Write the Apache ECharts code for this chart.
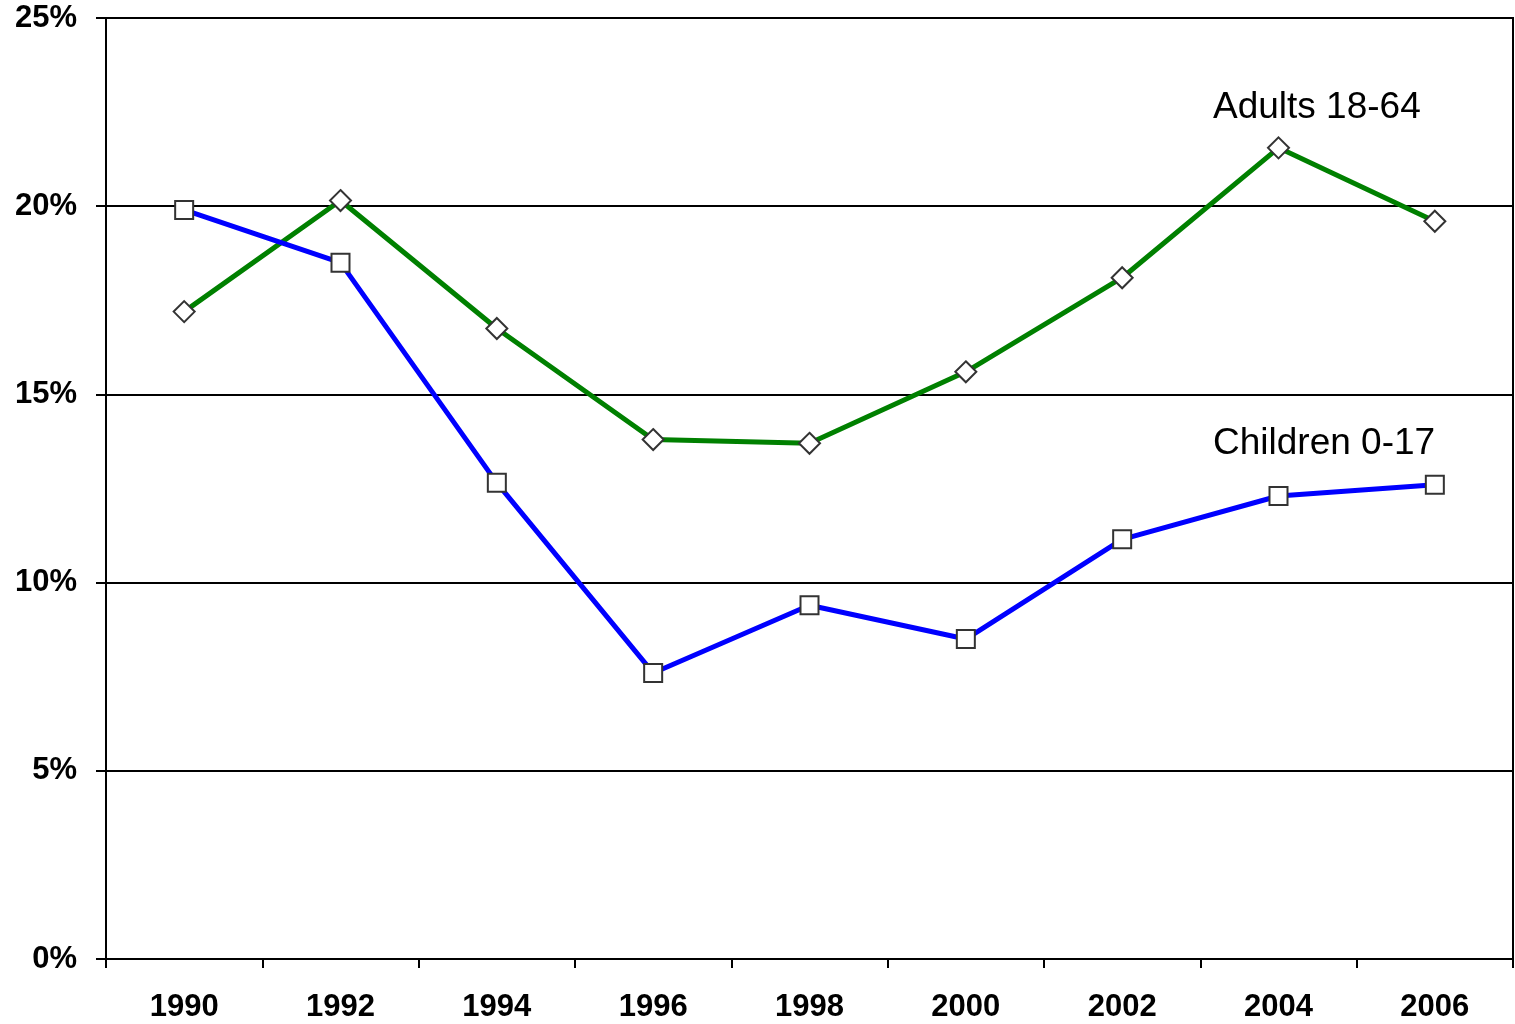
<!DOCTYPE html>
<html>
<head>
<meta charset="utf-8">
<script src="https://cdn.jsdelivr.net/npm/echarts@6/dist/echarts.min.js"></script>
<style>html,body{margin:0;padding:0;background:#fff}#c{width:1515px;height:1024px}</style>
</head>
<body>
<div id="c"></div>
<script>
const years = ['1990','1992','1994','1996','1998','2000','2002','2004','2006'];
const adults = [17.2, 20.15, 16.75, 13.8, 13.7, 15.6, 18.1, 21.55, 19.6];
const children = [19.9, 18.5, 12.65, 7.6, 9.4, 8.5, 11.15, 12.3, 12.6];
const yTicks = [0, 5, 10, 15, 20, 25];

const chart = echarts.init(document.getElementById('c'));
const font = '"Liberation Sans", Arial, sans-serif';
chart.setOption({
  animation: false,
  backgroundColor: '#fff',
  grid: {left: 106, right: 2, top: 18, bottom: 65, show: true, borderColor: '#000', borderWidth: 2, backgroundColor: 'transparent'},
  xAxis: {
    type: 'category', data: years, boundaryGap: true,
    axisLine: {lineStyle: {color: '#000', width: 2}},
    axisTick: {show: true, length: 9, lineStyle: {color: '#000', width: 2}},
    axisLabel: {color: '#000', fontFamily: font, fontWeight: 'bold', fontSize: 31, margin: 33}
  },
  yAxis: {
    type: 'value', min: 0, max: 25, interval: 5,
    axisLine: {show: true, lineStyle: {color: '#000', width: 2}},
    axisTick: {show: true, length: 10, lineStyle: {color: '#000', width: 2}},
    splitLine: {show: true, lineStyle: {color: '#000', width: 2}},
    axisLabel: {color: '#000', fontFamily: font, fontWeight: 'bold', fontSize: 31, margin: 29,
      padding: [6, 0, 0, 0],
      formatter: v => yTicks.includes(v) ? v + '%' : ''}
  },
  series: [
    {
      name: 'Adults 18-64', type: 'line', data: adults,
      lineStyle: {color: '#008000', width: 5},
      symbol: 'diamond', symbolSize: 21,
      itemStyle: {color: '#fff', borderColor: '#333', borderWidth: 2},
      z: 3
    },
    {
      name: 'Children 0-17', type: 'line', data: children,
      lineStyle: {color: '#0000ff', width: 5},
      symbol: 'rect', symbolSize: 18,
      itemStyle: {color: '#fff', borderColor: '#333', borderWidth: 2},
      z: 4
    }
  ],
  graphic: [
    {type: 'text', left: 1213, top: 89, style: {text: 'Adults 18-64', font: '37px ' + font, fill: '#000'}},
    {type: 'text', left: 1213, top: 425, style: {text: 'Children 0-17', font: '37px ' + font, fill: '#000'}}
  ]
});
</script>
</body>
</html>
